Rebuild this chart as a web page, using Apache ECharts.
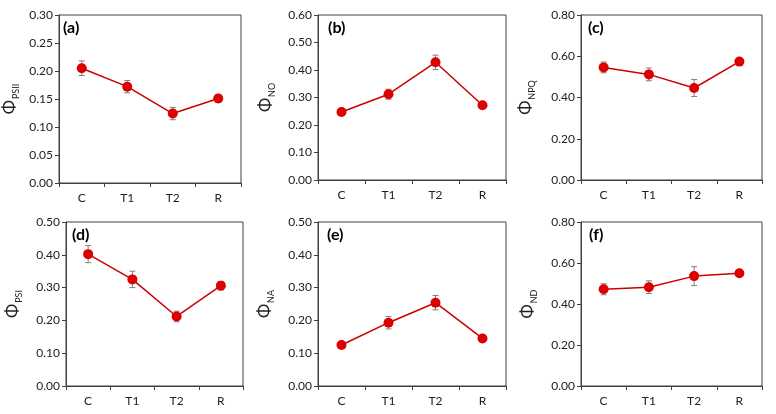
<!DOCTYPE html>
<html>
<head>
<meta charset="utf-8">
<script src="https://cdn.jsdelivr.net/npm/echarts@6/dist/echarts.min.js"></script>
<style>html,body{margin:0;padding:0;background:#fff;}#c{width:776px;height:414px;}</style>
</head>
<body>
<div id="c"></div>
<script>
var categories = ['C', 'T1', 'T2', 'R'];

var psiiMean = [0.205, 0.172, 0.124, 0.151];
var psiiErr  = [0.013, 0.011, 0.011, 0.007];
var noMean   = [0.247, 0.312, 0.428, 0.272];
var noErr    = [0.007, 0.018, 0.026, 0.008];
var npqMean  = [0.546, 0.512, 0.446, 0.574];
var npqErr   = [0.026, 0.031, 0.041, 0.013];
var psiMean  = [0.402, 0.325, 0.212, 0.306];
var psiErr   = [0.026, 0.025, 0.016, 0.013];
var naMean   = [0.125, 0.193, 0.254, 0.145];
var naErr    = [0.005, 0.019, 0.022, 0.005];
var ndMean   = [0.472, 0.482, 0.536, 0.550];
var ndErr    = [0.027, 0.031, 0.046, 0.007];

var panelLabels = ['(a)', '(b)', '(c)', '(d)', '(e)', '(f)'];
var subscripts = ['PSII', 'NO', 'NPQ', 'PSI', 'NA', 'ND'];
var yMax = [0.30, 0.60, 0.80, 0.50, 0.50, 0.80];
var yStep = [0.05, 0.10, 0.20, 0.10, 0.10, 0.20];

var means = [psiiMean, noMean, npqMean, psiMean, naMean, ndMean];
var errs = [psiiErr, noErr, npqErr, psiErr, naErr, ndErr];

// layout
var grids = [
  {left: 54, top: 15, width: 187, height: 168},
  {left: 318, top: 15, width: 188, height: 165},
  {left: 581, top: 15, width: 181, height: 165},
  {left: 66, top: 222, width: 177, height: 164},
  {left: 318, top: 222, width: 188, height: 164},
  {left: 581, top: 222, width: 181, height: 164}
];
var nameGaps = [41, 44, 47, 45, 45, 45];
var labelPos = [[63, 20], [328, 20], [588, 20], [72, 227], [327, 227], [589, 227]];

var FONT = 'Lato, "Liberation Sans", sans-serif';
var axisColor = '#404040';

var option = {
  animation: false,
  backgroundColor: '#fff',
  title: [], grid: [], xAxis: [], yAxis: [], series: []
};

for (var i = 0; i < 6; i++) {
  var g = grids[i];
  option.grid.push({left: g.left, top: g.top, width: g.width, height: g.height,
    show: true, borderColor: axisColor, borderWidth: 1, containLabel: false});
  option.title.push({text: panelLabels[i], left: labelPos[i][0], top: labelPos[i][1], padding: 0,
    textStyle: {fontFamily: FONT, fontWeight: 'bold', fontSize: 16, color: '#000'}});
  option.xAxis.push({
    type: 'category', gridIndex: i, data: categories, boundaryGap: true,
    axisLine: {lineStyle: {color: axisColor, width: 1}},
    axisTick: {show: true, length: 4, inside: false, lineStyle: {color: axisColor}},
    axisLabel: {margin: 9, fontFamily: FONT, fontSize: 12, color: '#222'},
    splitLine: {show: false}
  });
  option.yAxis.push({
    type: 'value', gridIndex: i, min: 0, max: yMax[i], interval: yStep[i],
    axisLine: {show: true, lineStyle: {color: axisColor, width: 1}},
    axisTick: {show: true, length: 4, lineStyle: {color: axisColor}},
    axisLabel: {margin: 6, fontFamily: FONT, fontSize: 12, color: '#222',
      formatter: function (v) { return v.toFixed(2); }},
    splitLine: {show: false},
    name: '{phi|Φ}{sub|' + subscripts[i] + '}',
    nameLocation: 'middle', nameGap: nameGaps[i], nameRotate: 90,
    nameTextStyle: {
      rich: {
        phi: {fontFamily: FONT, fontSize: 17, color: '#222', lineHeight: 20, verticalAlign: 'bottom'},
        sub: {fontFamily: FONT, fontSize: 9, color: '#222', lineHeight: 20, verticalAlign: 'bottom', padding: [0, 0, -3, 1]}
      }
    }
  });
  var errData = [];
  for (var k = 0; k < categories.length; k++) {
    errData.push([k, means[i][k] - errs[i][k], means[i][k] + errs[i][k]]);
  }
  option.series.push({
    type: 'custom', xAxisIndex: i, yAxisIndex: i, z: 1,
    data: errData,
    encode: {x: 0, y: [1, 2]},
    renderItem: function (params, api) {
      var lo = api.coord([api.value(0), api.value(1)]);
      var hi = api.coord([api.value(0), api.value(2)]);
      var cw = 3;
      var st = {stroke: '#7f7f7f', lineWidth: 1};
      return {type: 'group', children: [
        {type: 'line', shape: {x1: lo[0], y1: lo[1], x2: hi[0], y2: hi[1]}, style: st},
        {type: 'line', shape: {x1: lo[0] - cw, y1: lo[1], x2: lo[0] + cw, y2: lo[1]}, style: st},
        {type: 'line', shape: {x1: hi[0] - cw, y1: hi[1], x2: hi[0] + cw, y2: hi[1]}, style: st}
      ]};
    }
  });
  option.series.push({
    type: 'line', xAxisIndex: i, yAxisIndex: i, z: 3,
    data: means[i],
    symbol: 'circle', symbolSize: 10,
    lineStyle: {color: '#cc0000', width: 1.5},
    itemStyle: {color: '#dd0000', borderColor: '#dd0000', borderWidth: 0}
  });
}

var chart = echarts.init(document.getElementById('c'), null, {renderer: 'canvas'});
chart.setOption(option);
</script>
</body>
</html>
